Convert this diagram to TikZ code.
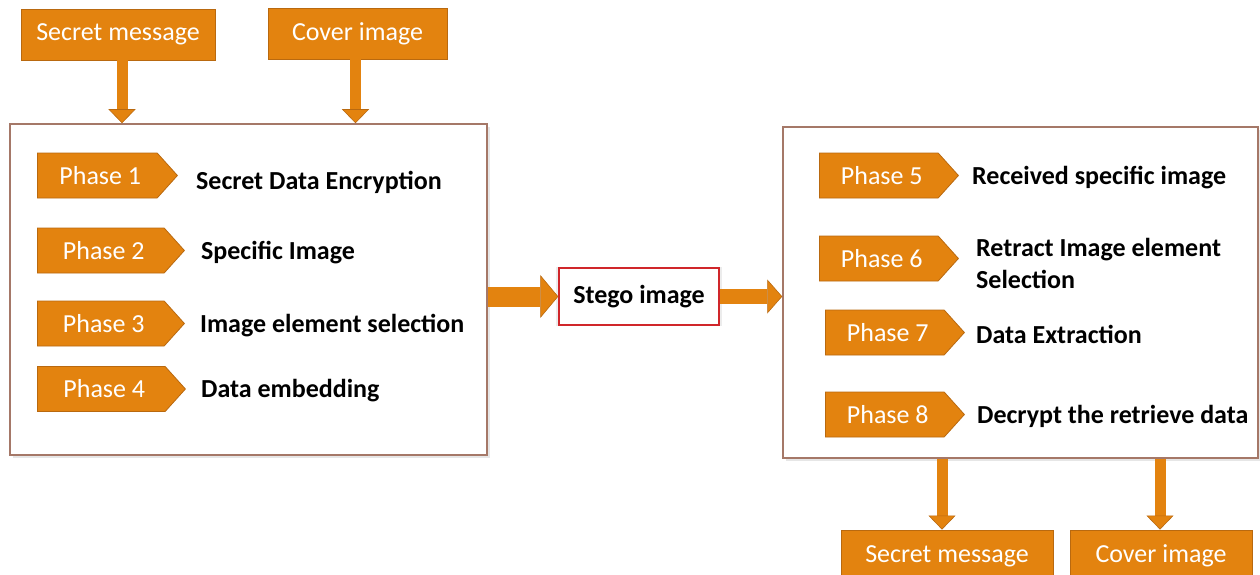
\documentclass[tikz,border=0pt]{standalone}
\usepackage{fontspec}
\setmainfont{Carlito}
\usepackage{tikz}
\usetikzlibrary{arrows.meta,positioning,shapes.symbols,shadows}
\definecolor{stgorange}{HTML}{E3830F}
\definecolor{stgedge}  {HTML}{B9690F}
\definecolor{stgframe} {HTML}{A57868}
\definecolor{stgred}   {HTML}{D0262A}
\tikzset{
  stgbox/.style={draw=stgedge, fill=stgorange, thick, text=white,
                 font=\fontsize{26}{30}\selectfont, inner sep=0pt},
  stgphase/.style={stgbox, shape=signal, signal to=east, signal pointer angle=96,
                   minimum height=45pt, minimum width=147pt, anchor=west},
  stglabel/.style={font=\fontsize{26}{32}\selectfont\bfseries, anchor=west,
                   align=left, inner sep=0pt, yshift=-2pt},
  stgpanel/.style={draw=stgframe, line width=1.5pt, fill=white,
                   drop shadow={shadow xshift=3pt, shadow yshift=-3pt, opacity=.2}},
  stgarrow/.style={line width=11pt, draw=stgorange,
                   -{Triangle[width=27pt,length=14pt,line width=0.6pt,fill=stgorange,color=stgedge]}},
}

\begin{document}
\begin{tikzpicture}[x=1pt,y=-1pt]
  \useasboundingbox (0,0) rectangle (1260,575);

  % inputs
  \node[stgbox, minimum width=194pt, minimum height=51pt] (secin) at (118,34.5) {Secret message};
  \node[stgbox, minimum width=179pt, minimum height=51pt] (covin) at (357.5,33.5) {Cover image};

  % embedding side
  \node[stgpanel, minimum width=477pt, minimum height=331pt] (lbox) at (248.5,289.5) {};
  \node[stgphase, minimum width=140pt] (p1) at (37,175.5) {\hspace*{6pt}Phase 1};
  \node[stgphase] (p2) at (37,250.5) {\hspace*{6pt}Phase 2};
  \node[stgphase] (p3) at (37,323.5) {\hspace*{6pt}Phase 3};
  \node[stgphase, minimum width=148pt] (p4) at (37,389) {\hspace*{6pt}Phase 4};
  \node[stglabel, right=18pt of p1, yshift=-5pt] (l1) {Secret Data Encryption};
  \node[stglabel, right=16pt of p2] (l2) {Specific Image};
  \node[stglabel, right=15pt of p3] (l3) {Image element selection};
  \node[stglabel, right=15pt of p4] (l4) {Data embedding};

  % stego image
  \node[draw=stgred, line width=1.5pt, fill=white, minimum width=160pt, minimum height=57pt,
        font=\fontsize{26}{30}\selectfont\bfseries,
        drop shadow={shadow xshift=0pt, shadow yshift=0pt, opacity=.15, shadow scale=1.04}]
        (stego) at (639,296.5) {Stego image};

  % extraction side
  \node[stgpanel, minimum width=475pt, minimum height=331pt] (rbox) at (1020.5,292.5) {};
  \node[stgphase, minimum width=139pt] (p5) at (819,175.5) {\hspace*{6pt}Phase 5};
  \node[stgphase, minimum width=139pt] (p6) at (819,258.5) {\hspace*{6pt}Phase 6};
  \node[stgphase, minimum width=139pt] (p7) at (825,332.5) {\hspace*{6pt}Phase 7};
  \node[stgphase, minimum width=139pt] (p8) at (825,414.5) {\hspace*{6pt}Phase 8};
  \node[stglabel, right=13pt of p5] (l5) {Received specific image};
  \node[stglabel, right=17pt of p6, yshift=-3pt] (l6) {Retract Image element\\Selection};
  \node[stglabel, right=11pt of p7] (l7) {Data Extraction};
  \node[stglabel, right=12pt of p8] (l8) {Decrypt the retrieve data};

  % outputs
  \node[stgbox, minimum width=212pt, minimum height=52pt] (secout) at (947,556) {Secret message};
  \node[stgbox, minimum width=182pt, minimum height=52pt] (covout) at (1161,556) {Cover image};

  % flow
  \draw[stgarrow] ([xshift=4pt]secin.south) -- ([xshift=4pt]secin.south |- lbox.north);
  \draw[stgarrow] ([xshift=-2pt]covin.south) -- ([xshift=-2pt]covin.south |- lbox.north);
  \draw[stgarrow, line width=20pt,
        -{Triangle[width=43pt,length=18pt,line width=0.6pt,fill=stgorange,color=stgedge]}]
        (lbox.east |- stego.west) -- (stego.west);
  \draw[stgarrow, line width=15pt,
        -{Triangle[width=34pt,length=15pt,line width=0.6pt,fill=stgorange,color=stgedge]}]
        (stego.east) -- (stego.east -| rbox.west);
  \draw[stgarrow] ([xshift=-5pt]secout.north |- rbox.south) -- ([xshift=-5pt]secout.north);
  \draw[stgarrow] ([xshift=-1pt]covout.north |- rbox.south) -- ([xshift=-1pt]covout.north);
\end{tikzpicture}
\end{document}
